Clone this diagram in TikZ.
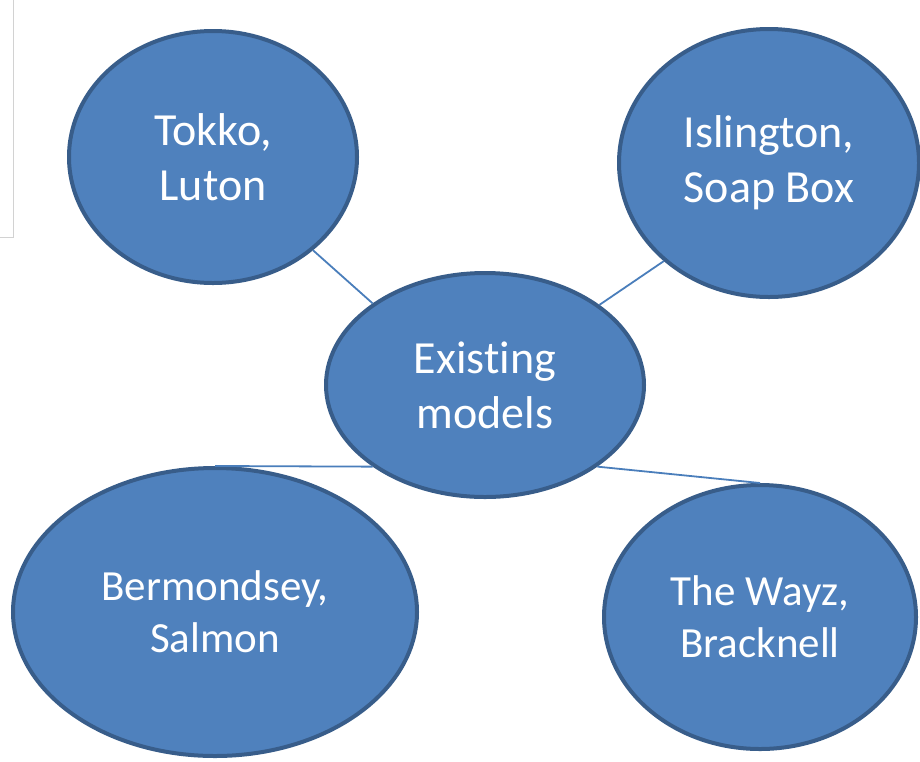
\documentclass[tikz,border=0pt]{standalone}
\usepackage{fontspec}
\setmainfont{Carlito}[Ligatures=NoCommon]
\usetikzlibrary{shapes.geometric}
\definecolor{bubblefill}{HTML}{4F81BD}
\definecolor{bubbleedge}{HTML}{385D8A}
\definecolor{linkblue}{HTML}{4A7EBB}

\begin{document}
\begin{tikzpicture}[x=0.5pt,y=-0.5pt]
    \tikzstyle{bubble}=[ellipse,fill=bubblefill,draw=bubbleedge,line width=2pt,inner sep=0pt,text=white,align=center,font=\fontsize{23}{27.5}\selectfont]
    \tikzstyle{small bubble}=[bubble,font=\fontsize{21.5}{26}\selectfont]
    \tikzstyle{link}=[draw=linkblue,line width=0.9pt]

\useasboundingbox (0,0) rectangle (920,761);
\draw[gray!35,line width=0.5pt] (-2,-2) rectangle (13,237);

\node[bubble,minimum width=318pt*0.5,minimum height=224pt*0.5] (exist) at (485,385) {Exist\kern0pt ing\\models};
\node[bubble,minimum width=288pt*0.5,minimum height=252pt*0.5] (tokko) at (213,157) {Tokko,\\Luton};
\node[bubble,minimum width=300pt*0.5,minimum height=268pt*0.5] (isling) at (769,163) {Islington,\\Soap Box};
\node[small bubble,minimum width=404pt*0.5,minimum height=288pt*0.5] (berm) at (215,612) {Bermondsey,\\Salmon};
\node[small bubble,minimum width=312pt*0.5,minimum height=264pt*0.5] (wayz) at (760,617) {The Wayz,\\Bracknell};

\draw[link] (tokko.-43) -- (exist.144);
\draw[link] (isling.223) -- (exist.35);
\draw[link] (berm.north) -- (exist.216);
\draw[link] (wayz.north) -- (exist.-36);
\end{tikzpicture}
\end{document}
